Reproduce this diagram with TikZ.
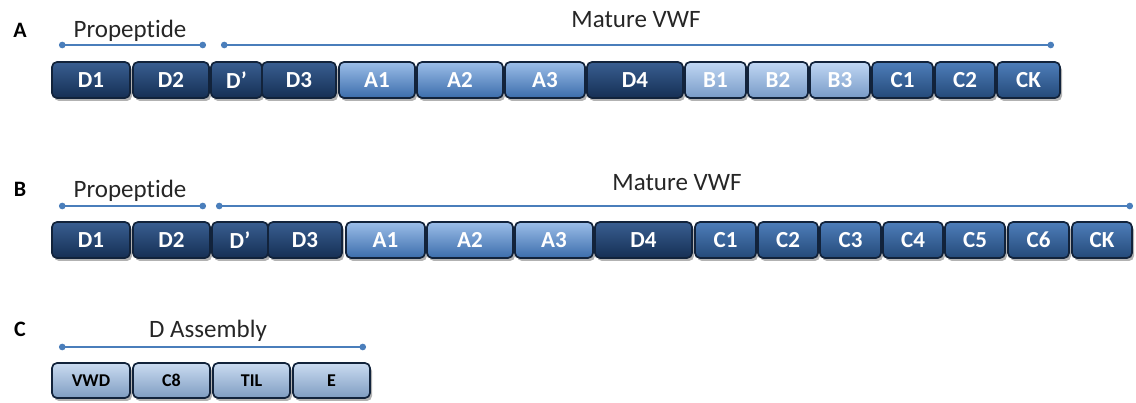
\documentclass[tikz,border=0pt]{standalone}
\usepackage{fontspec}
\setmainfont{Carlito}[Ligatures=NoCommon]
\usetikzlibrary{shadows,arrows.meta}

\definecolor{rim}{HTML}{12233B}
\definecolor{spanblue}{HTML}{4A7EBB}
\definecolor{hilite}{HTML}{7FB0EE}
\definecolor{dface}{HTML}{1B3B69}
\definecolor{aface}{HTML}{4A88D6}
\definecolor{bface}{HTML}{8DB6EA}
\definecolor{cface}{HTML}{2D5C97}
\definecolor{eface}{HTML}{95B8E3}

\tikzset{
	box/.style={draw=rim, line width=1.7pt, rounded corners=5pt, minimum height=36, inner sep=0pt,
		font=\fontsize{23}{23}\selectfont\bfseries, text=white,
		drop shadow={shadow xshift=2pt, shadow yshift=-3pt, opacity=0.3, fill=black}},
	dom/.style={top color=dface!70!hilite, middle color=dface, bottom color=dface!80!black},
	adom/.style={top color=aface!55!white, middle color=aface, bottom color=aface!80!black},
	bdom/.style={top color=bface!55!white, middle color=bface, bottom color=bface!85!black},
	cdom/.style={top color=cface!60!hilite, middle color=cface, bottom color=cface!80!black},
	edom/.style={top color=eface!50!white, middle color=eface, bottom color=eface!85!black,
		text=black, minimum height=35, font=\fontsize{18}{18}\selectfont\bfseries},
	span/.style={spanblue, line width=2pt, {Circle[length=6.5pt]}-{Circle[length=6.5pt]}},
	title/.style={anchor=base, font=\fontsize{25}{25}\selectfont, text=black!85},
	panel/.style={anchor=base, font=\fontsize{22}{22}\selectfont\bfseries}
}

\begin{document}
\begin{tikzpicture}[x=1pt, y=-1pt]

	\newcommand*{\rowA}{80}%
	\newcommand*{\rowB}{240}%
	\newcommand*{\rowC}{380.5}%

	\useasboundingbox (0,0) rectangle (1136,403);

	% A: VWF domains
	\node[panel] (lab-a) at (20,38) {A};
	\foreach \id/\txt/\l/\r/\kind in {D1/D1/52/130/dom, D2/D2/133/209/dom, Dp/D’/211/262/dom,
		D3/D3/262/336/dom, A1/A1/339/415/adom, A2/A2/417/503/adom, A3/A3/505/585/adom,
		D4/D4/587/683/dom, B1/B1/685/746/bdom, B2/B2/748/808/bdom, B3/B3/810/870/bdom,
		C1/C1/872/933/cdom, C2/C2/935/995/cdom, CK/CK/997/1060/cdom}{
		\node[box, \kind, minimum width={\r-\l}] (a-\id) at ({(\l+\r)/2},\rowA) {\txt};
	}
	\coordinate (a-pro-l) at (59,45);
	\coordinate (a-pro-r) at (206,45);
	\coordinate (a-mat-l) at (221,45);
	\coordinate (a-mat-r) at (1054,45);
	\draw[span] (a-pro-l) -- (a-pro-r);
	\draw[span] (a-mat-l) -- (a-mat-r);
	\node[title] (a-pro) at (130,38) {Propeptide};
	\node[title] (a-mat) at (636,28) {Mature VWF};

	% B: VWF domains, C-domain model
	\node[panel] (lab-b) at (20,197) {B};
	\foreach \id/\txt/\l/\r/\kind in {D1/D1/52/130/dom, D2/D2/133/210/dom, Dp/D’/212/268/dom,
		D3/D3/268/342/dom, A1/A1/346/425/adom, A2/A2/427/513/adom, A3/A3/515/593/adom,
		D4/D4/595/692/dom, C1/C1/695/756/cdom, C2/C2/758/818/cdom, C3/C3/820/881/cdom,
		C4/C4/883/943/cdom, C5/C5/945/1005/cdom, C6/C6/1008/1069/cdom, CK/CK/1072/1132/cdom}{
		\node[box, \kind, minimum width={\r-\l}] (b-\id) at ({(\l+\r)/2},\rowB) {\txt};
	}
	\coordinate (b-pro-l) at (59,206);
	\coordinate (b-pro-r) at (206,206);
	\coordinate (b-mat-l) at (216,206);
	\coordinate (b-mat-r) at (1133,206);
	\draw[span] (b-pro-l) -- (b-pro-r);
	\draw[span] (b-mat-l) -- (b-mat-r);
	\node[title] (b-pro) at (130,198) {Propeptide};
	\node[title] (b-mat) at (677,191) {Mature VWF};

	% C: D assembly
	\node[panel] (lab-c) at (20,337) {C};
	\foreach \id/\l/\r in {VWD/52/130, C8/133/210, TIL/213/290, E/293/370}{
		\node[box, edom, minimum width={\r-\l}] (c-\id) at ({(\l+\r)/2},\rowC) {\id};
	}
	\coordinate (c-asm-l) at (59,347);
	\coordinate (c-asm-r) at (366,347);
	\draw[span] (c-asm-l) -- (c-asm-r);
	\node[title] (c-asm) at (208,338) {D Assembly};

\end{tikzpicture}
\end{document}
